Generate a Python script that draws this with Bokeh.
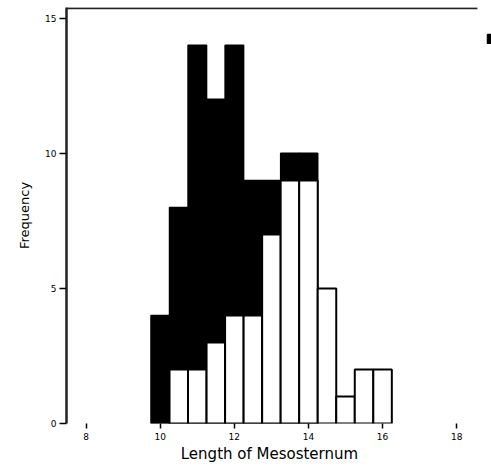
from bokeh.plotting import figure
from bokeh.models import Range1d, Legend, LegendItem, FixedTicker
from bokeh.core.properties import value
from bokeh.embed import file_html
from bokeh.resources import INLINE

# ---- data ----
bin_left = [9.75, 10.25, 10.75, 11.25, 11.75, 12.25, 12.75, 13.25, 13.75, 14.25, 14.75, 15.25, 15.75]
bin_width = 0.5
black_counts = [4, 8, 14, 12, 14, 9, 9, 10, 10, 0, 0, 0, 0]
white_counts = [0, 2, 2, 3, 4, 4, 7, 9, 9, 5, 1, 2, 2]
x_ticks = [8, 10, 12, 14, 16, 18]
y_ticks = [0, 5, 10, 15]
x_label = "Length of Mesosternum"
y_label = "Frequency"

x_start, x_box_end, x_view_end = 7.47, 18.56, 18.94
y_start, y_end = 0, 15.4

H = 470
p = figure(width=491, height=H, output_backend="svg", toolbar_location=None,
           x_range=Range1d(x_start, x_view_end), y_range=Range1d(y_start, y_end),
           min_border_left=66, min_border_right=0, min_border_top=7, min_border_bottom=H - 423)
p.outline_line_color = None
p.xgrid.grid_line_color = None
p.ygrid.grid_line_color = None
p.background_fill_color = "white"

def bars(counts):
    l = [b for b, c in zip(bin_left, counts) if c > 0]
    r = [b + bin_width for b, c in zip(bin_left, counts) if c > 0]
    t = [c for c in counts if c > 0]
    return l, r, t

l, r, t = bars(black_counts)
rb = p.quad(left=l, right=r, top=t, bottom=0, fill_color="black", line_color="black", line_width=1.5)
l, r, t = bars(white_counts)
rw = p.quad(left=l, right=r, top=t, bottom=0, fill_color="white", line_color="black", line_width=2)

# top border line of the plot box
top_y = y_end - 0.03
p.segment(x0=[x_start], y0=[top_y], x1=[x_box_end], y1=[top_y], line_color="#222222", line_width=2)

font = "DejaVu Sans"
xa = p.xaxis[0]
xa.ticker = FixedTicker(ticks=x_ticks)
xa.axis_line_color = None
xa.major_tick_out = 5
xa.major_tick_in = 0
xa.major_tick_line_width = 1.5
xa.major_tick_line_color = "black"
xa.minor_tick_line_color = None
xa.major_label_text_font = font
xa.major_label_text_font_size = "9px"
xa.major_label_text_color = "black"
xa.major_label_standoff = 4
# trailing no-break spaces keep the label centred on the plot box, not the wider frame
xa.axis_label = x_label + "\u00a0" * 4
xa.axis_label_text_font = font
xa.axis_label_text_font_style = "normal"
xa.axis_label_text_font_size = "15px"
xa.axis_label_text_color = "black"
xa.axis_label_standoff = 2

ya = p.yaxis[0]
ya.ticker = FixedTicker(ticks=y_ticks)
ya.axis_line_width = 2.5
ya.axis_line_color = "#222222"
ya.major_tick_out = 7
ya.major_tick_in = 0
ya.major_tick_line_width = 1.5
ya.major_tick_line_color = "black"
ya.minor_tick_line_color = None
ya.major_label_text_font = font
ya.major_label_text_font_size = "9px"
ya.major_label_text_color = "black"
ya.major_label_standoff = 3
ya.axis_label = y_label
ya.axis_label_text_font = font
ya.axis_label_text_font_style = "normal"
ya.axis_label_text_font_size = "13px"
ya.axis_label_text_color = "black"
ya.axis_label_standoff = 10

# legend swatch at the right edge (the rest lies outside the window in the reference)
legend = Legend(items=[LegendItem(label=value(" "), renderers=[rb])],
                location=(420, 379), padding=0, margin=0, spacing=5,
                glyph_width=10, glyph_height=11, label_height=11, label_width=1,
                label_standoff=0, label_text_font=font, label_text_font_size="9px",
                border_line_color=None, background_fill_alpha=0)
p.add_layout(legend, "center")

open("out.html", "w").write(file_html(p, INLINE))
